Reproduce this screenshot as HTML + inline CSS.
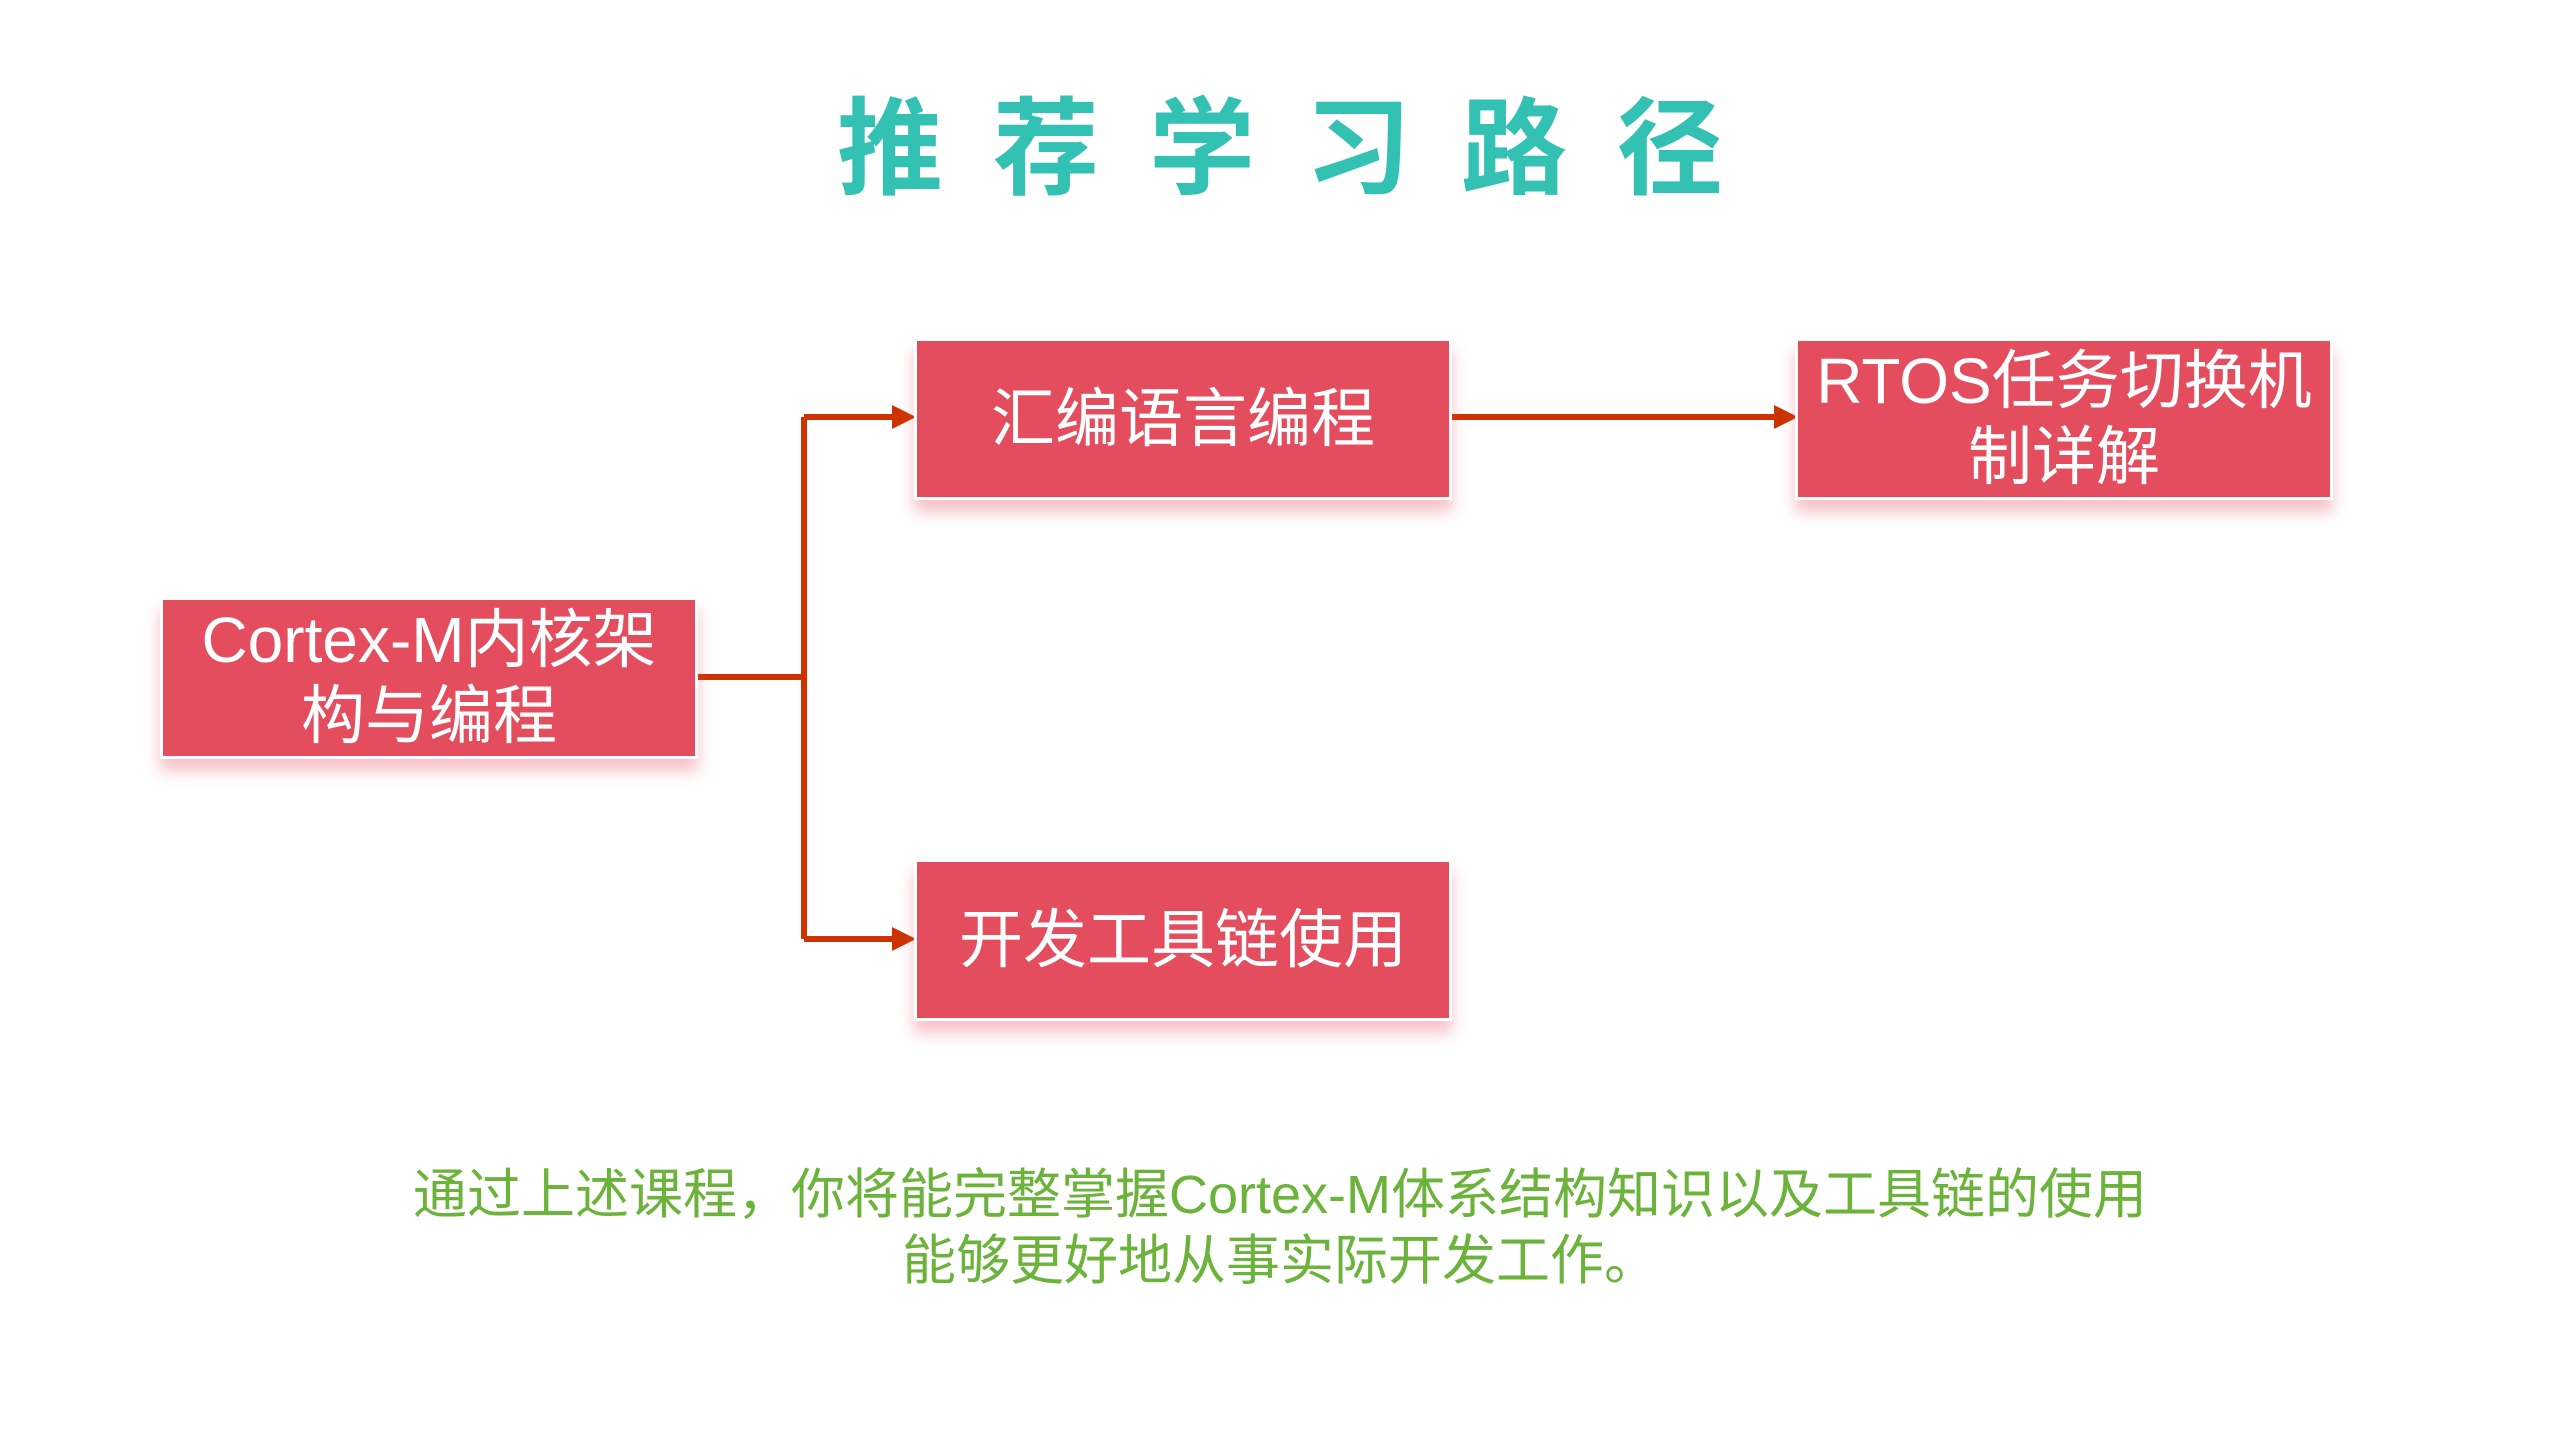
<!DOCTYPE html>
<html><head><meta charset="utf-8"><style>
html,body{margin:0;padding:0;background:#fff;}
body{width:2560px;height:1440px;position:relative;overflow:hidden;font-family:"Liberation Sans","Noto Sans CJK SC",sans-serif;}
.title{position:absolute;left:0;width:2560px;top:80px;text-align:center;font-size:106px;font-weight:bold;color:#33C1B4;letter-spacing:50px;text-indent:50px;line-height:140px;}
.box{position:absolute;background:#E44D5E;border:3px solid #fff;box-shadow:0 12px 14px rgba(228,77,94,0.35);color:#fff;display:flex;align-items:center;justify-content:center;text-align:center;font-size:64px;line-height:76px;box-sizing:border-box;}
.foot{position:absolute;left:0;width:2560px;top:1162px;text-align:center;color:#6BB33A;font-size:54px;line-height:66px;}
</style></head><body>
<div class="title">推荐学习路径</div>
<svg width="2560" height="1440" style="position:absolute;left:0;top:0">
<g stroke="#CC3300" stroke-width="6" fill="none">
<path d="M696 677 H804"/>
<path d="M804 417 V939"/>
<path d="M804 417 H898"/>
<path d="M804 939 H898"/>
<path d="M1449 417 H1780"/>
</g>
<g fill="#CC3300">
<polygon points="892,405 916,417 892,429"/>
<polygon points="892,927 916,939 892,951"/>
<polygon points="1774,405 1798,417 1774,429"/>
</g>
</svg>
<div class="box" style="left:160px;top:597px;width:538px;height:162px;">Cortex-M内核架<br>构与编程</div>
<div class="box" style="left:914px;top:338px;width:538px;height:162px;">汇编语言编程</div>
<div class="box" style="left:1795px;top:338px;width:538px;height:162px;">RTOS任务切换机<br>制详解</div>
<div class="box" style="left:914px;top:859px;width:538px;height:162px;">开发工具链使用</div>
<div class="foot">通过上述课程，你将能完整掌握Cortex-M体系结构知识以及工具链的使用<br>能够更好地从事实际开发工作。</div>
</body></html>
